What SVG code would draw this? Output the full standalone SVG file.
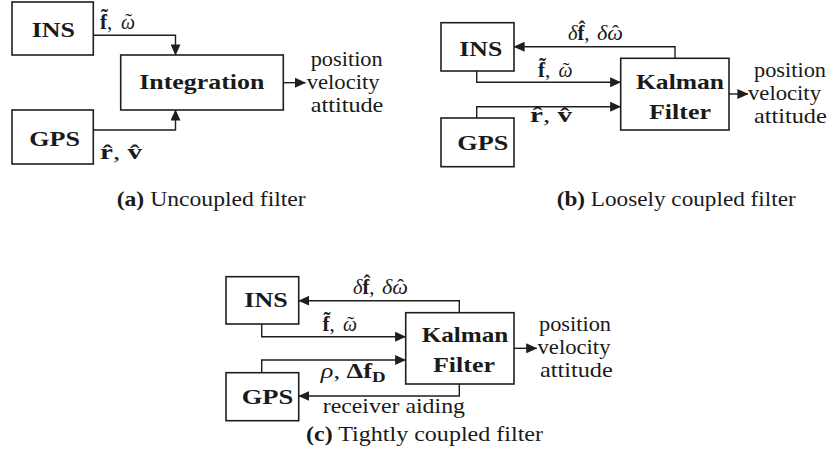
<svg xmlns="http://www.w3.org/2000/svg" width="832" height="468" viewBox="0 0 832 468">
  <defs>
    <marker id="arr" markerUnits="userSpaceOnUse" markerWidth="11" markerHeight="10" viewBox="0 0 11 10" refX="10.6" refY="5" orient="auto">
      <path d="M0,0 L11,5 L0,10 z" fill="#1e1e1e"/>
    </marker>
    <style>
      .box { fill: #ffffff; stroke: #1e1e1e; stroke-width: 1.6; }
      .wire { fill: none; stroke: #1e1e1e; stroke-width: 1.4; marker-end: url(#arr); }
      text { font-family: "Liberation Serif", "DejaVu Serif", serif; font-size: 21px; fill: #1a1a1a; }
      .b { font-weight: bold; }
      .i { font-style: italic; }
      .acc { text-anchor: middle; }
      .sub { font-size: 15px; font-weight: bold; }
    </style>
  </defs>
  <rect width="832" height="468" fill="#ffffff"/>

  <!-- (a) uncoupled filter -->
  <g id="a-ins">
    <rect class="box" x="12" y="2" width="81.3" height="53"/>
    <text class="b" x="31.7" y="37.3" textLength="43.3" lengthAdjust="spacingAndGlyphs">INS</text>
  </g>
  <g id="a-gps">
    <rect class="box" x="12" y="110" width="81.3" height="54"/>
    <text class="b" x="29.3" y="145.7" textLength="50.7" lengthAdjust="spacingAndGlyphs">GPS</text>
  </g>
  <g id="a-integration">
    <rect class="box" x="120.7" y="55" width="162.6" height="55"/>
    <text class="b" x="139.3" y="89" textLength="125" lengthAdjust="spacingAndGlyphs">Integration</text>
  </g>
  <g id="a-output">
    <text x="310.7" y="65.7" textLength="72" lengthAdjust="spacingAndGlyphs">position</text>
    <text x="306.7" y="88.7" textLength="73" lengthAdjust="spacingAndGlyphs">velocity</text>
    <text x="310.7" y="111.7" textLength="72.7" lengthAdjust="spacingAndGlyphs">attitude</text>
  </g>

  <!-- (b) loosely coupled filter -->
  <g id="b-ins">
    <rect class="box" x="441" y="22.7" width="73" height="48.3"/>
    <text class="b" x="459.3" y="55.7" textLength="43" lengthAdjust="spacingAndGlyphs">INS</text>
  </g>
  <g id="b-gps">
    <rect class="box" x="441" y="118" width="73" height="48.7"/>
    <text class="b" x="457.3" y="150" textLength="51" lengthAdjust="spacingAndGlyphs">GPS</text>
  </g>
  <g id="b-kalman">
    <rect class="box" x="620.7" y="58.3" width="108.3" height="71.7"/>
    <text class="b" x="636" y="89" textLength="88" lengthAdjust="spacingAndGlyphs">Kalman</text>
    <text class="b" x="649" y="119" textLength="62" lengthAdjust="spacingAndGlyphs">Filter</text>
  </g>
  <g id="b-output">
    <text x="754" y="77" textLength="72" lengthAdjust="spacingAndGlyphs">position</text>
    <text x="748" y="100" textLength="73" lengthAdjust="spacingAndGlyphs">velocity</text>
    <text x="754" y="123" textLength="72.7" lengthAdjust="spacingAndGlyphs">attitude</text>
  </g>

  <!-- (c) tightly coupled filter -->
  <g id="c-ins">
    <rect class="box" x="226" y="276.7" width="72.7" height="47.3"/>
    <text class="b" x="244.3" y="307.3" textLength="43.4" lengthAdjust="spacingAndGlyphs">INS</text>
  </g>
  <g id="c-gps">
    <rect class="box" x="226" y="372.7" width="72.7" height="48"/>
    <text class="b" x="241.7" y="404" textLength="51.6" lengthAdjust="spacingAndGlyphs">GPS</text>
  </g>
  <g id="c-kalman">
    <rect class="box" x="405.7" y="312.7" width="108.3" height="71.3"/>
    <text class="b" x="421.7" y="342.3" textLength="86.6" lengthAdjust="spacingAndGlyphs">Kalman</text>
    <text class="b" x="433" y="371.7" textLength="62" lengthAdjust="spacingAndGlyphs">Filter</text>
  </g>
  <g id="c-output">
    <text x="539" y="331.3" textLength="72" lengthAdjust="spacingAndGlyphs">position</text>
    <text x="537.5" y="354.3" textLength="73" lengthAdjust="spacingAndGlyphs">velocity</text>
    <text x="540" y="377.3" textLength="72.7" lengthAdjust="spacingAndGlyphs">attitude</text>
  </g>

  <!-- connectors -->
  <g id="connectors">
    <path class="wire" d="M93.3,35.3 H175.5 V55"/>
    <path class="wire" d="M93.3,130 H175.5 V110"/>
    <path class="wire" d="M283.3,82.7 H305.5"/>

    <path class="wire" d="M675,58.3 V46.7 H514"/>
    <path class="wire" d="M476.7,71 V82.3 H620.7"/>
    <path class="wire" d="M476.7,118 V106.7 H620.7"/>
    <path class="wire" d="M729,94 H748"/>

    <path class="wire" d="M459.3,312.7 V300.7 H298.7"/>
    <path class="wire" d="M261.7,324 V336.7 H405.7"/>
    <path class="wire" d="M261.7,372.7 V360 H405.7"/>
    <path class="wire" d="M459.3,384 V396 H298.7"/>
    <path class="wire" d="M514,348.3 H536.8"/>
  </g>

  <!-- signal labels: Latin accents as combining marks, accents over omega placed apart -->
  <g id="labels">
    <g id="lbl-a-ins">
      <text x="100" y="28.7"><tspan class="b">f&#x303;</tspan>,</text>
      <text class="i" x="121" y="28.7" textLength="14" lengthAdjust="spacingAndGlyphs">ω</text>
      <text class="acc" x="128.5" y="28.2">˜</text>
    </g>
    <g id="lbl-b-ins">
      <text x="538" y="77"><tspan class="b">f&#x303;</tspan>,</text>
      <text class="i" x="558.5" y="77" textLength="14" lengthAdjust="spacingAndGlyphs">ω</text>
      <text class="acc" x="566" y="76.5">˜</text>
    </g>
    <g id="lbl-c-ins">
      <text x="322.5" y="331"><tspan class="b">f&#x303;</tspan>,</text>
      <text class="i" x="343" y="331" textLength="14" lengthAdjust="spacingAndGlyphs">ω</text>
      <text class="acc" x="350.5" y="330.5">˜</text>
    </g>

    <text x="100" y="159" textLength="42" lengthAdjust="spacingAndGlyphs"><tspan class="b">r&#x302;</tspan>, <tspan class="b">v&#x302;</tspan></text>
    <text x="530" y="121.7" textLength="42" lengthAdjust="spacingAndGlyphs"><tspan class="b">r&#x302;</tspan>, <tspan class="b">v&#x302;</tspan></text>

    <g id="lbl-b-fb">
      <text x="568" y="40" textLength="21.5" lengthAdjust="spacingAndGlyphs"><tspan class="i">δ</tspan><tspan class="b">f&#x302;</tspan>,</text>
      <text class="i" x="597" y="40" textLength="26" lengthAdjust="spacingAndGlyphs">δω</text>
      <text class="acc" x="615.5" y="39.6">ˆ</text>
    </g>
    <g id="lbl-c-fb">
      <text x="353" y="294" textLength="21.5" lengthAdjust="spacingAndGlyphs"><tspan class="i">δ</tspan><tspan class="b">f&#x302;</tspan>,</text>
      <text class="i" x="382" y="294" textLength="26" lengthAdjust="spacingAndGlyphs">δω</text>
      <text class="acc" x="400.5" y="293.6">ˆ</text>
    </g>

    <text x="320.7" y="377.7" textLength="65" lengthAdjust="spacingAndGlyphs"><tspan class="i">ρ</tspan>, <tspan class="b">Δf</tspan><tspan class="sub" dy="4.5">D</tspan></text>
    <text x="322.7" y="413.3" textLength="142.3" lengthAdjust="spacingAndGlyphs">receiver aiding</text>
  </g>

  <!-- sub-figure captions -->
  <g id="captions">
    <text x="116.7" y="206" textLength="189" lengthAdjust="spacingAndGlyphs"><tspan class="b">(a)</tspan> Uncoupled filter</text>
    <text x="556.7" y="206" textLength="239" lengthAdjust="spacingAndGlyphs"><tspan class="b">(b)</tspan> Loosely coupled filter</text>
    <text x="306" y="441" textLength="237" lengthAdjust="spacingAndGlyphs"><tspan class="b">(c)</tspan> Tightly coupled filter</text>
  </g>
</svg>
